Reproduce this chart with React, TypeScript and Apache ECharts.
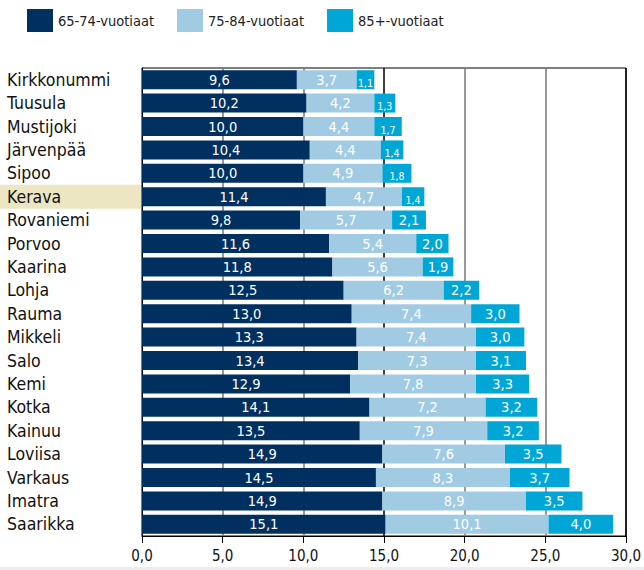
import React, { useEffect, useRef } from "react";
import * as echarts from "echarts";

const categories = [
  "Kirkkonummi", "Tuusula", "Mustijoki", "Järvenpää", "Sipoo", "Kerava", "Rovaniemi",
  "Porvoo", "Kaarina", "Lohja", "Rauma", "Mikkeli", "Salo", "Kemi", "Kotka", "Kainuu",
  "Loviisa", "Varkaus", "Imatra", "Saarikka",
];
const age65_74 = [9.6, 10.2, 10.0, 10.4, 10.0, 11.4, 9.8, 11.6, 11.8, 12.5, 13.0, 13.3, 13.4, 12.9, 14.1, 13.5, 14.9, 14.5, 14.9, 15.1];
const age75_84 = [3.7, 4.2, 4.4, 4.4, 4.9, 4.7, 5.7, 5.4, 5.6, 6.2, 7.4, 7.4, 7.3, 7.8, 7.2, 7.9, 7.6, 8.3, 8.9, 10.1];
const age85 = [1.1, 1.3, 1.7, 1.4, 1.8, 1.4, 2.1, 2.0, 1.9, 2.2, 3.0, 3.0, 3.1, 3.3, 3.2, 3.2, 3.5, 3.7, 3.5, 4.0];
const seriesNames = ["65-74-vuotiaat", "75-84-vuotiaat", "85+-vuotiaat"];
const highlighted = "Kerava";
const xTicks = [0, 5, 10, 15, 20, 25, 30];

const FONT = "'DejaVu Sans Condensed', 'DejaVu Sans', sans-serif";
const colors = ["#00305F", "#A1CBE3", "#00A6D6"];

const fmt = (v: number) => v.toFixed(1).replace(".", ",");

export default function App() {
  const ref = useRef<HTMLDivElement>(null);
  useEffect(() => {
    if (!ref.current) return;
    const chart = echarts.init(ref.current, null, { renderer: "svg" });
    const mk = (arr: number[]) =>
      arr.map((v) =>
        v < 1.9
          ? { value: v, label: { fontSize: 10.5, offset: [0, 3] } }
          : { value: v }
      );
    const allData = [age65_74, age75_84, age85];
    chart.setOption({
      animation: false,
      textStyle: { fontFamily: FONT },
      legend: {
        top: 4,
        left: 22,
        itemWidth: 26,
        itemHeight: 23,
        itemGap: 23,
        icon: "rect",
        textStyle: { fontSize: 14.5, color: "#222", fontFamily: FONT, width: 94 },
        data: seriesNames,
      },
      grid: {
        left: 142,
        right: 18,
        top: 68,
        bottom: 570 - 536,
        show: true,
        borderColor: "#000",
        borderWidth: 1,
        outerBoundsMode: "none",
        containLabel: false,
      },
      xAxis: {
        type: "value",
        min: xTicks[0],
        max: xTicks[xTicks.length - 1],
        interval: 5,
        axisLine: { show: true, lineStyle: { color: "#000" } },
        axisTick: { show: true, length: 7, lineStyle: { color: "#000" } },
        axisLabel: {
          margin: 12,
          fontSize: 15,
          color: "#111",
          fontFamily: FONT,
          hideOverlap: false,
          formatter: (v: number) => fmt(v),
        },
        splitLine: {
          show: true,
          lineStyle: {
            width: 1.5,
            color: ["#777", "#777", "#777", "#000", "#777", "#777", "#000"],
          },
        },
      },
      yAxis: {
        type: "category",
        inverse: true,
        data: categories,
        axisLine: { show: true, lineStyle: { color: "#000" } },
        axisTick: { show: false },
        axisLabel: {
          interval: 0,
          hideOverlap: false,
          align: "left",
          margin: 142,
          fontSize: 17.5,
          color: "#111",
          fontFamily: FONT,
          formatter: (v: string) => (v === highlighted ? `{hl|${v}}` : `{n|${v}}`),
          rich: {
            n: { padding: [0, 0, 0, 7], fontSize: 17.5, fontFamily: FONT, color: "#111" },
            hl: {
              padding: [0, 0, 0, 7],
              width: 134,
              height: 24,
              lineHeight: 24,
              backgroundColor: "#ECE6C2",
              fontSize: 17.5,
              fontFamily: FONT,
              color: "#111",
            },
          },
        },
      },
      series: allData.map((arr, i) => ({
        name: seriesNames[i],
        type: "bar",
        stack: "total",
        barCategoryGap: "19%",
        itemStyle: { color: colors[i] },
        label: {
          show: true,
          position: "inside",
          color: "#fff",
          fontSize: 14.5,
          fontFamily: FONT,
          formatter: (p: any) => fmt(p.value),
        },
        data: mk(arr),
      })),
      graphic: [
        { type: "rect", left: 0, bottom: 0, shape: { width: 644, height: 3 }, style: { fill: "#EEEEEE" } },
      ],
    });
    return () => chart.dispose();
  }, []);
  return <div ref={ref} style={{ width: 644, height: 570, position: "absolute", left: 0, top: 0 }} />;
}
